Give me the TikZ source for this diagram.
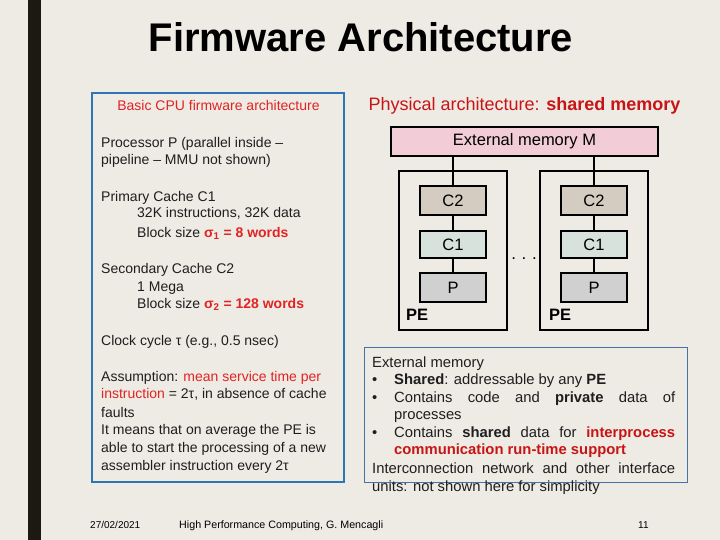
\documentclass[tikz,border=0pt]{standalone}
\usepackage{fontspec}
\setmainfont{Liberation Sans}
\definecolor{bgc}{RGB}{238,235,228}
\definecolor{barc}{RGB}{28,26,16}
\definecolor{boxblue}{RGB}{46,117,182}
\definecolor{thinblue}{RGB}{70,115,165}
\definecolor{lred}{RGB}{225,35,35}
\definecolor{rred}{RGB}{200,20,20}
\definecolor{memfill}{RGB}{242,205,215}
\definecolor{ctwo}{RGB}{212,204,192}
\definecolor{cone}{RGB}{216,226,221}
\definecolor{pfill}{RGB}{208,208,208}
\definecolor{txt}{RGB}{30,30,30}
\tikzset{
  lt/.style={anchor=base west, inner sep=0pt, text=txt, font=\fontsize{14}{17}\selectfont},
  rt/.style={anchor=base west, inner sep=0pt, text=txt, font=\fontsize{14.8}{18}\selectfont},
  blk/.style={draw=black, line width=1.4pt, inner sep=0pt, font=\fontsize{16.5}{20}\selectfont},
  link/.style={draw=black, line width=1.4pt},
  foot/.style={anchor=base west, inner sep=0pt, font=\fontsize{10}{12}\selectfont}
}
\begin{document}
\begin{tikzpicture}[x=1pt,y=-1pt]
\useasboundingbox (0,0) rectangle (720,540);
\fill[bgc] (0,0) rectangle (720,540);
\fill[barc] (28,0) rectangle (41,540);

% title
\node[anchor=base, inner sep=0pt, font=\fontsize{40}{46}\selectfont\bfseries] (title) at (361,52) {Firmware Architecture};

% left box
\draw[boxblue, line width=1.8pt] (92,93) rectangle (344,482);
\node[anchor=base, inner sep=0pt, text=lred, font=\fontsize{14}{17}\selectfont] (lh) at (218.5,111) {Basic CPU firmware architecture};
\node[lt] (l1) at (101,148) {Processor P (parallel inside –};
\node[lt] (l2) at (101,165) {pipeline – MMU not shown)};
\node[lt] (l3) at (101,202) {Primary Cache C1};
\node[lt] (l4) at (137,218) {32K instructions, 32K data};
\node[lt] (l5) at (137,237) {Block size \textcolor{lred}{\textbf{σ\textsubscript{1} = 8 words}}};
\node[lt] (l6) at (101,273) {Secondary Cache C2};
\node[lt] (l7) at (137,291) {1 Mega};
\node[lt] (l8) at (137,308) {Block size \textcolor{lred}{\textbf{σ\textsubscript{2} = 128 words}}};
\node[lt] (l9) at (101,345) {Clock cycle τ (e.g., 0.5 nsec)};
\node[lt] (l10) at (101,381) {Assumption: \textcolor{lred}{mean service time per}};
\node[lt] (l11) at (101,398) {\textcolor{lred}{instruction} = 2τ, in absence of cache};
\node[lt] (l12) at (101,417) {faults};
\node[lt] (l13) at (101,434) {It means that on average the PE is};
\node[lt] (l14) at (101,452) {able to start the processing of a new};
\node[lt] (l15) at (101,470) {assembler instruction every 2τ};

% right: physical architecture
\node[anchor=base, inner sep=0pt, text=rred, font=\fontsize{18}{21}\selectfont] (ph) at (524.5,111) {Physical architecture: \textbf{shared memory}};
\node[blk, fill=memfill, minimum width=267pt, minimum height=29pt] (mem) at (524.5,141.5) {External memory M};

\node[blk, minimum width=108pt, minimum height=159pt] (pe1) at (453,250.5) {};
\node[blk, minimum width=108pt, minimum height=159pt] (pe2) at (594,250.5) {};

\node[blk, fill=ctwo, minimum width=66pt, minimum height=29pt] (c2a) at (453,200.5) {C2};
\node[blk, fill=cone, minimum width=66pt, minimum height=27pt] (c1a) at (453,244.5) {C1};
\node[blk, fill=pfill, minimum width=66pt, minimum height=29pt] (pa) at (453,287.5) {P};
\node[blk, fill=ctwo, minimum width=66pt, minimum height=29pt] (c2b) at (594,200.5) {C2};
\node[blk, fill=cone, minimum width=66pt, minimum height=27pt] (c1b) at (594,244.5) {C1};
\node[blk, fill=pfill, minimum width=66pt, minimum height=29pt] (pb) at (594,287.5) {P};

\draw[link] (c2a.north |- mem.south) -- (c2a.north);
\draw[link] (c2b.north |- mem.south) -- (c2b.north);
\draw[link] (c2a) -- (c1a);
\draw[link] (c1a) -- (pa);
\draw[link] (c2b) -- (c1b);
\draw[link] (c1b) -- (pb);

\node[anchor=base, inner sep=0pt, font=\fontsize{17}{20}\selectfont] (dots) at (524,259) {.\,\,.\,\,.};
\node[anchor=base west, inner sep=0pt, font=\fontsize{16.5}{20}\selectfont\bfseries] (pel1) at (406,320) {PE};
\node[anchor=base west, inner sep=0pt, font=\fontsize{16.5}{20}\selectfont\bfseries] (pel2) at (549,320) {PE};

% bottom right text box
\draw[thinblue, line width=1pt] (364,347) rectangle (687,482);
\node[rt] (r1) at (372,367) {External memory};
\node[rt] (b1) at (372,384) {•};
\node[rt] (r2) at (394,384) {\textbf{Shared}: addressable by any \textbf{PE}};
\node[rt] (b2) at (372,402) {•};
\node[rt] (r3) at (394,402) {\makebox[281pt][s]{Contains code and \textbf{private} data of}};
\node[rt] (r4) at (394,419) {processes};
\node[rt] (b3) at (372,437) {•};
\node[rt] (r5) at (394,437) {\makebox[281pt][s]{Contains \textbf{shared} data for \textcolor{rred}{\textbf{interprocess}}}};
\node[rt] (r6) at (394,454) {\textcolor{rred}{\textbf{communication run-time support}}};
\node[rt] (r7) at (372,473) {\makebox[303pt][s]{Interconnection network and other interface}};
\node[rt] (r8) at (372,491) {units: not shown here for simplicity};

% footer
\node[foot] (f1) at (90,528) {27/02/2021};
\node[foot, font=\fontsize{10.7}{12}\selectfont] (f2) at (179,528) {High Performance Computing, G. Mencagli};
\node[foot] (f3) at (638,528) {11};
\end{tikzpicture}
\end{document}
